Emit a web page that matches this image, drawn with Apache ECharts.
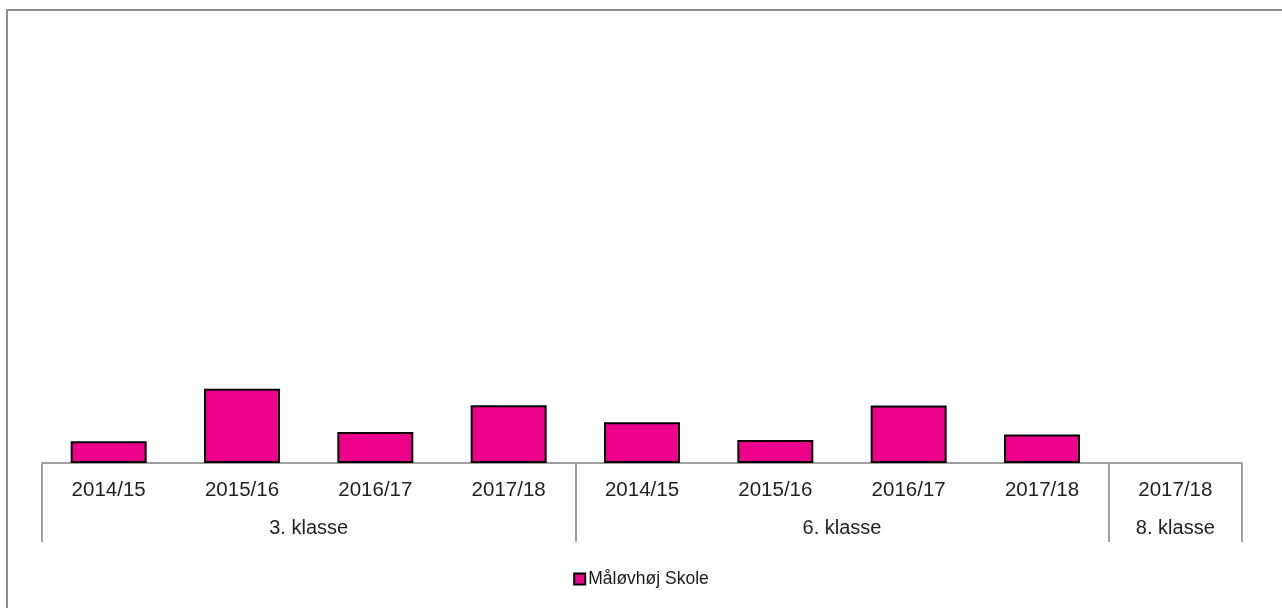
<!DOCTYPE html>
<html>
<head>
<meta charset="utf-8">
<script src="https://cdn.jsdelivr.net/npm/echarts@6/dist/echarts.min.js"></script>
<style>
html,body{margin:0;padding:0;background:#fff;}
#chart{width:1282px;height:608px;}
</style>
</head>
<body>
<div id="chart"></div>
<script>
// Data
const years = ['2014/15','2015/16','2016/17','2017/18','2014/15','2015/16','2016/17','2017/18','2017/18'];
const groups = ['3. klasse','6. klasse','8. klasse'];
const groupSizes = [4, 4, 1];
const seriesName = 'Måløvhøj Skole';
const values = [4.95, 16.85, 7.05, 13.15, 9.25, 5.25, 13.05, 6.45, null];

// derived group boundaries / centers
const groupStarts = [];
const groupCenters = [];
let acc = 0;
groupSizes.forEach(s => { groupStarts.push(acc); groupCenters.push(acc + s / 2); acc += s; });

const font = "'Liberation Sans', Arial, sans-serif";
const chart = echarts.init(document.getElementById('chart'), null, {renderer: 'canvas'});
chart.setOption({
  animation: false,
  backgroundColor: '#fff',
  textStyle: {fontFamily: font},
  graphic: [{
    type: 'rect', silent: true, z: -1,
    shape: {x: 7, y: 10, width: 1300, height: 700},
    style: {fill: 'none', stroke: '#8c8c8c', lineWidth: 2}
  }],
  grid: {left: 42, right: 40, top: 23, height: 440, containLabel: false},
  legend: {
    top: 570, left: 'center', padding: 0,
    icon: 'rect', itemWidth: 11, itemHeight: 11, itemGap: 10,
    itemStyle: {borderColor: '#000', borderWidth: 2},
    textStyle: {fontFamily: font, fontSize: 17.5, lineHeight: 18, color: '#1a1a1a', padding: [0, 0, 0, -2]},
    data: [seriesName]
  },
  xAxis: [{
    type: 'category',
    data: years,
    position: 'bottom',
    axisLine: {show: true, lineStyle: {color: '#a0a0a0', width: 2}},
    axisTick: {
      show: true, length: 79,
      interval: function (idx) { return groupStarts.indexOf(idx) >= 0; },
      lineStyle: {color: '#a0a0a0', width: 2}
    },
    axisLabel: {interval: 0, margin: 17, fontSize: 20.5, color: '#1f1f1f', fontFamily: font},
    splitLine: {show: false}
  }, {
    type: 'value',
    position: 'bottom',
    min: 0, max: acc, interval: 0.5,
    axisLine: {show: false},
    axisTick: {show: false},
    splitLine: {show: false},
    axisLabel: {
      margin: 55, fontSize: 20, color: '#1f1f1f', fontFamily: font,
      showMinLabel: true, showMaxLabel: true,
      formatter: function (v) {
        for (let i = 0; i < groupCenters.length; i++) {
          if (Math.abs(v - groupCenters[i]) < 1e-6) return groups[i];
        }
        return '';
      }
    }
  }],
  yAxis: {
    type: 'value', min: 0, max: 100, show: false,
    splitLine: {show: false}
  },
  series: [{
    name: seriesName,
    type: 'bar',
    xAxisIndex: 0,
    barWidth: '57%',
    data: values,
    itemStyle: {color: '#EC008C', borderColor: '#000', borderWidth: 2}
  }]
});
</script>
</body>
</html>
